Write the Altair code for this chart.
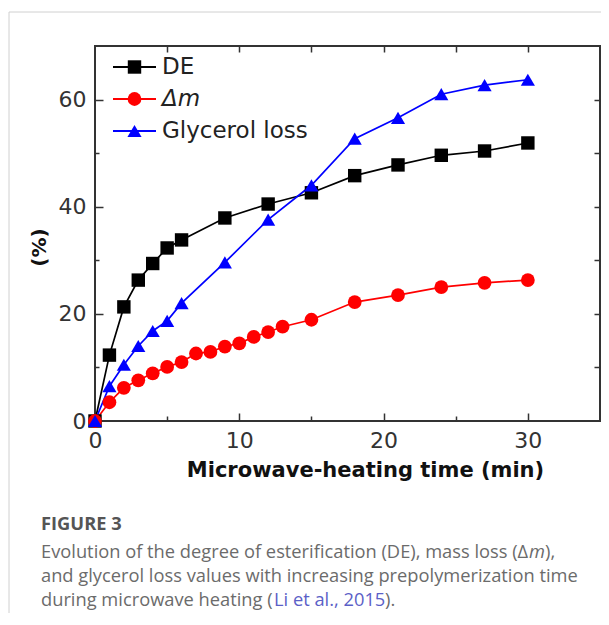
import altair as alt
import pandas as pd

# ---- series ----
series_names = ["DE", "Δm", "Glycerol loss"]
series_colors = ["#000000", "#ff0000", "#0000ff"]
series_shapes = ["square", "circle", "triangle-up"]
series_sizes = [180, 200, 330]

de_time = [0, 1, 2, 3, 4, 5, 6, 9, 12, 15, 18, 21, 24, 27, 30]
de_value = [0, 12.3, 21.3, 26.3, 29.4, 32.3, 33.8, 37.9, 40.5, 42.6, 45.8, 47.8, 49.6, 50.4, 51.9]

dm_time = [0, 1, 2, 3, 4, 5, 6, 7, 8, 9, 10, 11, 12, 13, 15, 18, 21, 24, 27, 30]
dm_value = [0, 3.5, 6.2, 7.6, 8.9, 10.1, 11.0, 12.6, 12.9, 13.9, 14.5, 15.7, 16.6, 17.6, 18.9,
            22.2, 23.5, 25.0, 25.8, 26.3]

gl_time = [0, 1, 2, 3, 4, 5, 6, 9, 12, 15, 18, 21, 24, 27, 30]
gl_value = [0, 6.5, 10.5, 14.0, 16.8, 18.7, 22.0, 29.6, 37.6, 44.0, 52.7, 56.6, 61.0, 62.7, 63.7]

# ---- axes ----
x_domain = [0, 35]
y_domain = [0, 70]
x_label_values = [0, 10, 20, 30]
x_tick_values = [5, 10, 15, 20, 25, 30]
y_label_values = [0, 20, 40, 60]
y_tick_values = [10, 20, 30, 40, 50, 60]

x_title = "Microwave-heating time (min)"
y_title = "(%)"

# ---- caption ----
cap_fig = "FIGURE 3"
cap1a = "Evolution of the degree of esterification (DE), mass loss (Δ"
cap1b = "m"
cap1c = "),"
cap2 = "and glycerol loss values with increasing prepolymerization time"
cap3a = "during microwave heating ("
cap3b = "Li et al., 2015"
cap3c = ")."

W, H = 505, 375

rows = []
for name, ts, vs in [("DE", de_time, de_value), ("Δm", dm_time, dm_value),
                     ("Glycerol loss", gl_time, gl_value)]:
    for t, v in zip(ts, vs):
        rows.append({"series": name, "time": t, "value": v})
df = pd.DataFrame(rows)
legend_df = pd.DataFrame({"series": series_names})

xs = alt.Scale(domain=x_domain, nice=False, zero=False)
ys = alt.Scale(domain=y_domain, nice=False, zero=False)
cs = alt.Scale(domain=series_names, range=series_colors)
shape_s = alt.Scale(domain=series_names, range=series_shapes)
size_s = alt.Scale(domain=series_names, range=series_sizes)
leg_y = alt.Scale(type="point", domain=series_names, range=[21, 85], padding=0)

FONT = "DejaVu Sans"
TICK = "#333333"
CAPFONT = "Open Sans"
CAPSIZE = 18.3

ax_main = alt.Axis(orient="bottom", values=x_label_values, ticks=False, tickSize=0, domain=False,
                   grid=False, labelFont=FONT, labelFontSize=22, labelColor="#333333",
                   labelPadding=9, labelFlush=False, labelOverlap=False,
                   title=x_title, titleFont=FONT, titleFontSize=21, titleFontWeight="bold",
                   titleColor="#111111", titleX=270, titleY=55, titleAlign="center",
                   titleBaseline="alphabetic")
ay_main = alt.Axis(orient="left", values=y_label_values, ticks=False, tickSize=0, domain=False,
                   grid=False, labelFont=FONT, labelFontSize=22, labelColor="#333333",
                   labelPadding=9, labelFlush=False, labelOverlap=False,
                   title=y_title, titleFont=FONT, titleFontSize=20, titleFontWeight="bold",
                   titleColor="#111111", titleX=-56, titleY=201, titleAngle=270,
                   titleAlign="center", titleBaseline="middle")

ax_in_bottom = alt.Axis(orient="top", offset=-H, values=x_tick_values, labels=False, domain=False,
                        grid=False, title=None, tickColor=TICK, tickWidth=1.5,
                        tickSize={"condition": {"test": "datum.value % 10 !== 0", "value": 5},
                                  "value": 8})
ay_in_left = alt.Axis(orient="right", offset=-W, values=y_tick_values, labels=False, domain=False,
                      grid=False, title=None, tickColor=TICK, tickWidth=1.5,
                      tickSize={"condition": {"test": "datum.value % 20 !== 0", "value": 4},
                                "value": 8})
ax_in_top = alt.Axis(orient="bottom", offset=-H, values=x_tick_values, labels=False, domain=False,
                     grid=False, title=None, tickColor=TICK, tickWidth=1.5, tickSize=6)
ay_in_right = alt.Axis(orient="left", offset=-W, values=y_tick_values, labels=False, domain=False,
                       grid=False, title=None, tickColor=TICK, tickWidth=1.5, tickSize=6)

lines = alt.Chart(df).mark_line(strokeWidth=1.7).encode(
    x=alt.X("time:Q", scale=xs, axis=ax_main),
    y=alt.Y("value:Q", scale=ys, axis=ay_main),
    color=alt.Color("series:N", scale=cs, legend=None),
)

points = alt.Chart(df).mark_point(filled=True, opacity=1).encode(
    x=alt.X("time:Q", scale=xs, axis=ax_in_bottom),
    y=alt.Y("value:Q", scale=ys, axis=ay_in_left),
    color=alt.Color("series:N", scale=cs, legend=None),
    shape=alt.Shape("series:N", scale=shape_s, legend=None),
    size=alt.Size("series:N", scale=size_s, legend=None),
)

ghost = alt.Chart(df).mark_point(opacity=0).encode(
    x=alt.X("time:Q", scale=xs, axis=ax_in_top),
    y=alt.Y("value:Q", scale=ys, axis=ay_in_right),
)

# ---- legend (inside the plot, top-left) ----
leg_rule = alt.Chart(legend_df).mark_rule(strokeWidth=2).encode(
    x=alt.value(18), x2=alt.value(61),
    y=alt.Y("series:N", scale=leg_y, axis=None),
    color=alt.Color("series:N", scale=cs, legend=None),
)
leg_pts = alt.Chart(legend_df).mark_point(filled=True, opacity=1).encode(
    x=alt.value(39.5),
    y=alt.Y("series:N", scale=leg_y, axis=None),
    color=alt.Color("series:N", scale=cs, legend=None),
    shape=alt.Shape("series:N", scale=shape_s, legend=None),
    size=alt.Size("series:N", scale=size_s, legend=None),
)
leg_txt_plain = alt.Chart(legend_df).mark_text(
    align="left", baseline="middle", font=FONT, fontSize=23, color="#222222"
).encode(
    x=alt.value(67), y=alt.Y("series:N", scale=leg_y, axis=None), text="series:N"
).transform_filter(alt.datum.series != "Δm")
leg_txt_ital = alt.Chart(legend_df).mark_text(
    align="left", baseline="middle", font=FONT, fontSize=23, color="#222222", fontStyle="italic"
).encode(
    x=alt.value(67), y=alt.Y("series:N", scale=leg_y, axis=None), text="series:N"
).transform_filter(alt.datum.series == "Δm")

one = alt.Data(values=[{}])


def txt(s, x, y, color="#6b6b6b", weight="normal", style="normal"):
    return alt.Chart(one).mark_text(align="left", baseline="alphabetic", font=CAPFONT,
                                    fontSize=CAPSIZE, color=color, fontWeight=weight,
                                    fontStyle=style).encode(
        x=alt.value(x), y=alt.value(y), text=alt.value(s))


border_top = alt.Chart(one).mark_rule(color="#d0d0d0", strokeWidth=1).encode(
    x=alt.value(-86), x2=alt.value(W + 20), y=alt.value(-34), y2=alt.value(-34))
border_left = alt.Chart(one).mark_rule(color="#d0d0d0", strokeWidth=1).encode(
    x=alt.value(-86), x2=alt.value(-86), y=alt.value(-34), y2=alt.value(600))

texts = [
    txt(cap_fig, -54, 484, color="#555555", weight="bold"),
    txt(cap1a, -54, 512),
    txt(cap1b, 434, 512, style="italic"),
    txt(cap1c, 450, 512),
    txt(cap2, -54, 536),
    txt(cap3a, -54, 560),
    txt(cap3b, 179, 560, color="#5b5fc7"),
    txt(cap3c, 290, 560),
]

chart = alt.layer(
    border_top, border_left, lines, points, ghost,
    leg_rule, leg_pts, leg_txt_plain, leg_txt_ital, *texts
).resolve_axis(
    x="independent", y="independent"
).resolve_scale(
    y="independent"
).properties(
    width=W, height=H,
    autosize=alt.AutoSizeParams(type="none"),
    padding={"left": 87, "top": 38, "right": 1, "bottom": 192},
).configure_view(stroke="#333333", strokeWidth=2)

chart.save("out.html", embed_options={"renderer": "svg", "actions": False})
